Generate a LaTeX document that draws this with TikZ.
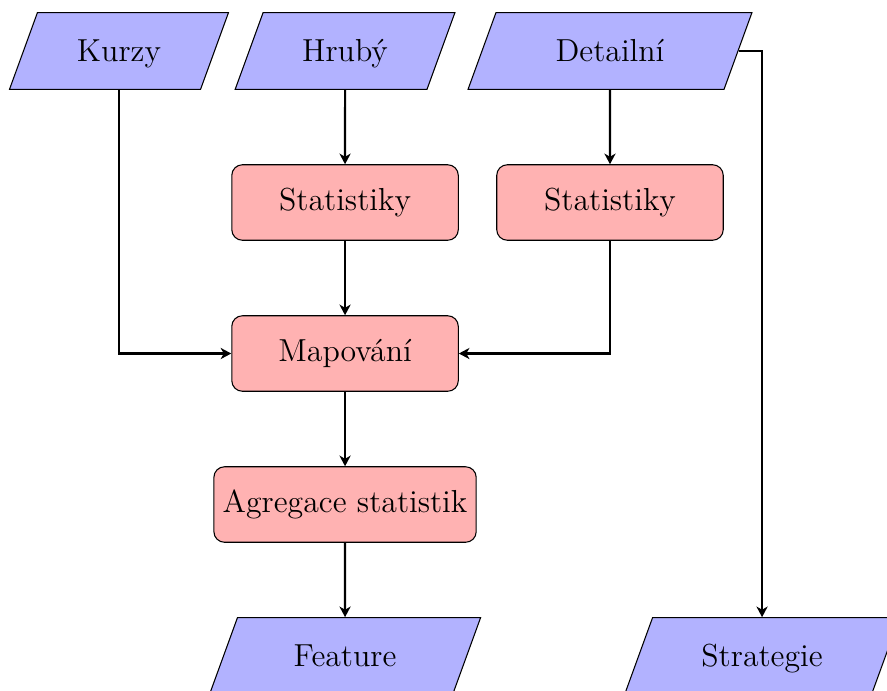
\documentclass[tikz,border=0pt]{standalone}
\usetikzlibrary{shapes.geometric,arrows.meta}
\begin{document}
\begin{tikzpicture}[
  iobox/.style={trapezium, trapezium left angle=70, trapezium right angle=110,
    trapezium stretches body=true, draw, fill=blue!30,
    text height=2.4ex, text depth=0.5ex, inner ysep=8.2pt, inner xsep=0pt,
    font=\large},
  procbox/.style={rectangle, rounded corners, draw, fill=red!30,
    minimum height=1cm, minimum width=3cm, font=\large},
  flow/.style={-{Stealth[length=4pt,width=4.2pt,inset=1.2pt]}, thick}
]
\useasboundingbox (0,0) rectangle (11.748,-9.139);
\node[iobox, minimum width=2.9cm] (kurzy) at (1.576,-0.675) {Kurzy};
\node[iobox, minimum width=2.91cm] (hruby) at (4.570,-0.675) {Hrubý};
\node[iobox, minimum width=3.76cm] (detail) at (8.079,-0.675) {Detailní};
\node[procbox] (stat1) at (4.570,-2.682) {Statistiky};
\node[procbox] (stat2) at (8.079,-2.682) {Statistiky};
\node[procbox] (map) at (4.570,-4.682) {Mapování};
\node[procbox] (agr) at (4.570,-6.682) {Agregace statistik};
\node[iobox, minimum width=3.59cm] (feat) at (4.570,-8.689) {Feature};
\node[iobox, minimum width=3.64cm] (strat) at (10.093,-8.689) {Strategie};
\draw[flow] (kurzy) |- (map);
\draw[flow] (hruby) -- (stat1);
\draw[flow] (stat1) -- (map);
\draw[flow] (detail) -- (stat2);
\draw[flow] (stat2) |- (map);
\draw[flow] (map) -- (agr);
\draw[flow] (agr) -- (feat);
\draw[flow] (detail.east) -| (strat.north);
\end{tikzpicture}
\end{document}
